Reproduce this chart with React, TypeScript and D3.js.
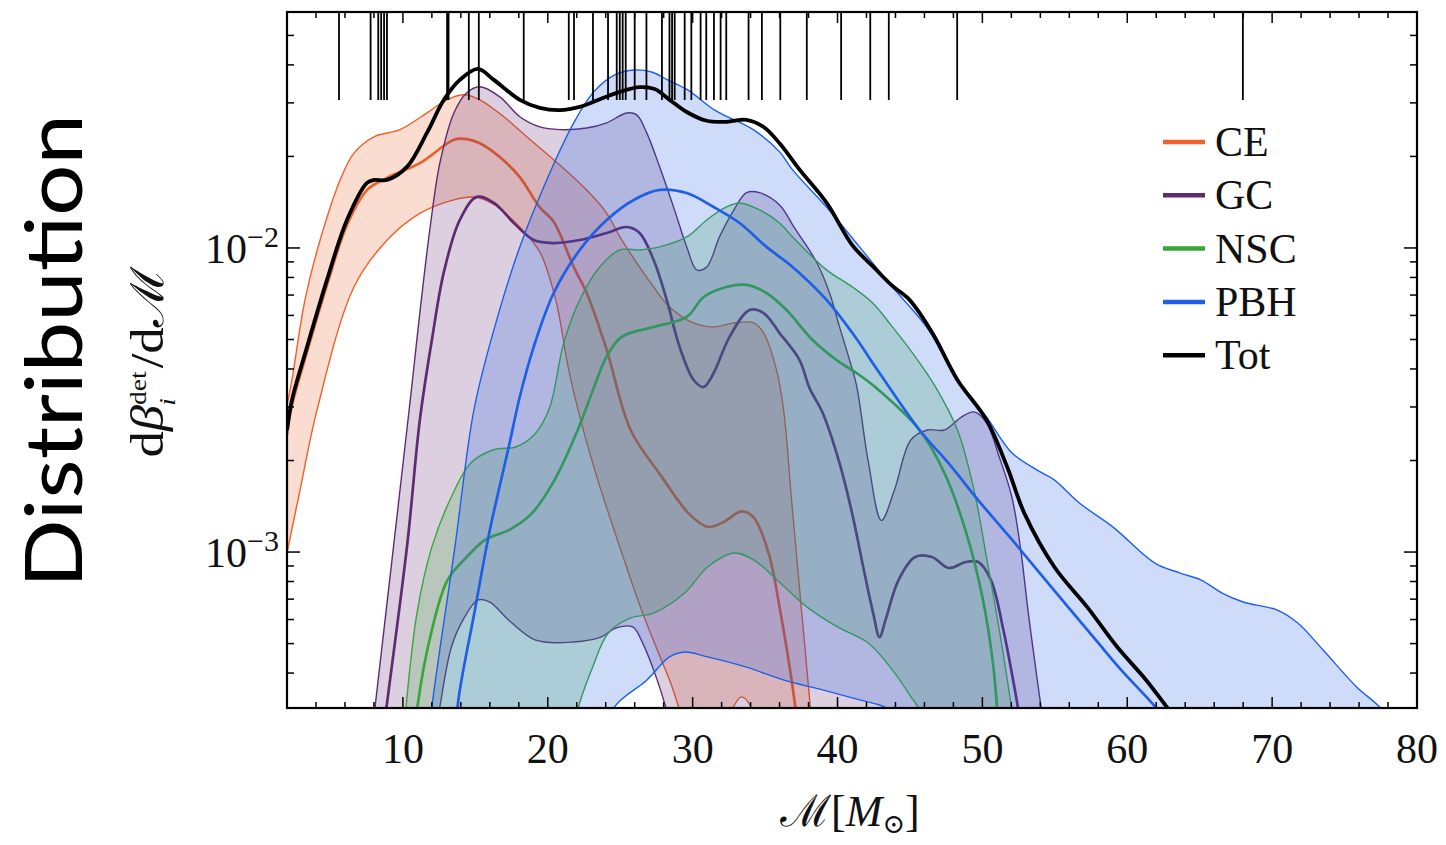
import React from 'react';
import * as d3 from 'd3';

type Pt = [number, number];

// ---- data: [chirp mass M_sun, dβ/dM] ----
const ceUpper: Pt[] = [[2.0,0.00304],[2.34,0.00368],[3.24,0.00675],[4.28,0.0106],[5.66,0.0167],[6.62,0.0205],[8.0,0.0232],[9.79,0.0245],[11.66,0.0278],[13.03,0.0307],[14.21,0.0319],[15.31,0.0307],[16.97,0.027],[18.55,0.0232],[20.41,0.0195],[22.69,0.0155],[24.07,0.013],[24.97,0.0109],[26.14,0.00893],[27.31,0.00744],[28.41,0.0064],[30.07,0.00567],[31.45,0.0055],[32.83,0.00567],[34.21,0.00567],[34.9,0.00525],[35.79,0.00397],[36.28,0.00293],[36.83,0.00148],[37.45,0.000695],[38.14,0.000302],[38.62,0.000153]];
const ceCentral: Pt[] = [[2.0,0.00243],[2.34,0.00304],[3.38,0.00455],[4.76,0.00756],[6.14,0.0119],[7.52,0.0155],[8.9,0.017],[11.17,0.019],[13.52,0.0227],[14.41,0.0228],[15.31,0.0221],[16.69,0.0199],[18.07,0.0171],[19.45,0.0136],[20.41,0.0122],[21.79,0.00866],[22.69,0.00711],[24.07,0.00462],[25.72,0.00252],[27.86,0.00177],[29.72,0.00134],[31.03,0.00121],[32.07,0.00125],[33.38,0.00136],[34.21,0.0013],[35.24,0.000993],[36.07,0.00063],[36.83,0.000379],[37.38,0.000241]];
const ceLower: Pt[] = [[2.0,0.000993],[2.9,0.0016],[4.07,0.00293],[6.62,0.00744],[8.9,0.0106],[11.17,0.013],[13.52,0.0144],[14.9,0.0147],[16.28,0.0139],[18.07,0.0117],[19.45,0.0097],[20.55,0.00675],[21.52,0.00382],[23.1,0.00196],[24.97,0.00104],[26.55,0.00063],[28.41,0.000379],[29.79,0.00026],[31.52,0.000232],[32.62,0.000298],[33.38,0.000334],[34.21,0.000298],[34.97,0.000207]];

const gcUpper: Pt[] = [[7.8,0.000236],[8.07,0.000307],[9.38,0.00107],[10.55,0.00329],[11.17,0.00611],[11.86,0.0115],[12.55,0.019],[13.52,0.0278],[14.41,0.0324],[15.31,0.0339],[16.69,0.0314],[18.07,0.027],[19.45,0.025],[20.83,0.0245],[22.69,0.0248],[24.07,0.0258],[25.45,0.0278],[26.14,0.0274],[26.83,0.0239],[27.72,0.0185],[28.69,0.0136],[29.59,0.0101],[30.28,0.00847],[30.97,0.00866],[31.86,0.0109],[32.83,0.0133],[33.72,0.0152],[34.62,0.0152],[36.0,0.01385],[37.03,0.01164],[38.55,0.00899],[39.45,0.00711],[40.14,0.0055],[40.83,0.00428],[41.31,0.00354],[42.14,0.00196],[43.03,0.00127],[43.93,0.0016],[45.07,0.00234],[46.21,0.00252],[47.38,0.00252],[48.55,0.00278],[49.42,0.00289],[50.28,0.00266],[51.17,0.00205],[52.03,0.00152],[52.62,0.00104],[53.17,0.00063],[53.79,0.000379],[54.07,0.000302],[54.34,0.000223]];
const gcCentral: Pt[] = [[8.55,0.000236],[8.86,0.000307],[10.31,0.00107],[11.17,0.00272],[12.0,0.00498],[12.83,0.00834],[13.93,0.01236],[15.1,0.01472],[16.28,0.01406],[17.66,0.01208],[19.03,0.01062],[20.41,0.01038],[22.21,0.01062],[24.07,0.0112],[25.45,0.01172],[26.34,0.0112],[27.31,0.00913],[28.21,0.00675],[29.1,0.00473],[30.07,0.00368],[30.76,0.00349],[31.45,0.00388],[32.55,0.0051],[33.93,0.00625],[34.9,0.00611],[36.0,0.00525],[37.38,0.00428],[38.07,0.00346],[38.97,0.00287],[40.14,0.00196],[41.01,0.00134],[41.86,0.000853],[42.46,0.00063],[42.9,0.000525],[43.31,0.000597],[44.21,0.000809],[45.36,0.000963],[46.52,0.000963],[47.68,0.000886],[48.83,0.000927],[49.72,0.000927],[50.59,0.000809],[51.45,0.000554],[52.03,0.0004],[52.48,0.000302],[52.83,0.000223]];
const gcLower: Pt[] = [[12.0,0.000207],[12.55,0.000309],[13.35,0.000487],[14.14,0.000597],[15.17,0.000695],[16.0,0.000685],[17.31,0.000597],[19.17,0.000513],[21.79,0.000506],[23.66,0.000525],[24.69,0.000562],[25.86,0.000567],[26.55,0.000502],[27.31,0.000409],[28.14,0.000309],[28.83,0.000223]];

const nscUpper: Pt[] = [[10.07,0.00026],[10.97,0.00063],[12.0,0.00104],[13.35,0.00152],[14.67,0.00196],[16.26,0.00217],[17.83,0.00222],[19.16,0.00246],[20.14,0.003],[21.1,0.00487],[22.21,0.00675],[23.59,0.00866],[24.97,0.00985],[26.34,0.00985],[27.72,0.01008],[29.59,0.01087],[30.97,0.01236],[32.34,0.01364],[33.24,0.01406],[34.62,0.01334],[36.0,0.01208],[36.9,0.01087],[39.24,0.00847],[41.03,0.00744],[42.41,0.0066],[43.79,0.0055],[45.17,0.00452],[46.69,0.00354],[48.28,0.00252],[49.42,0.0016],[50.28,0.000963],[51.17,0.000554],[52.03,0.000302],[52.28,0.000241]];
const nscCentral: Pt[] = [[10.8,0.000241],[10.97,0.000302],[12.0,0.000554],[13.08,0.000809],[14.41,0.000963],[15.72,0.0011],[17.31,0.00118],[18.9,0.00134],[20.48,0.00173],[22.07,0.00252],[23.17,0.00346],[24.07,0.0044],[25.1,0.0051],[27.31,0.0055],[29.59,0.00593],[30.76,0.0069],[32.34,0.00744],[33.72,0.00756],[35.1,0.00711],[36.48,0.00625],[38.28,0.00498],[39.93,0.00428],[41.31,0.00388],[42.69,0.00346],[45.66,0.00252],[47.38,0.00182],[48.83,0.00118],[50.0,0.000711],[50.73,0.000431],[51.03,0.000302],[51.24,0.000232]];
const nscLower: Pt[] = [[21.86,0.000241],[22.07,0.000302],[23.1,0.000419],[24.17,0.000541],[25.72,0.000607],[27.31,0.00063],[29.45,0.000733],[31.03,0.000893],[32.88,0.000993],[34.21,0.000942],[36.05,0.000791],[37.9,0.000659],[40.0,0.000567],[42.12,0.000502],[43.9,0.000403],[45.07,0.000334],[45.66,0.000302],[46.07,0.000241]];

const pbhUpper: Pt[] = [[11.79,0.000241],[12.0,0.000309],[13.59,0.00104],[14.9,0.00293],[16.28,0.00538],[18.07,0.01008],[19.93,0.01674],[21.79,0.02577],[23.17,0.0326],[24.62,0.0371],[26.0,0.0385],[27.17,0.0379],[28.28,0.0357],[29.66,0.0331],[31.52,0.0284],[34.21,0.02445],[36.0,0.0207],[36.9,0.01806],[39.24,0.01364],[41.52,0.01008],[43.79,0.00744],[46.14,0.0055],[48.41,0.0036],[50.28,0.00278],[52.03,0.00212],[53.78,0.00186],[54.94,0.00173],[56.69,0.00145],[59.0,0.00121],[61.9,0.00092],[63.66,0.000853],[65.1,0.000809],[66.55,0.000733],[68.0,0.000685],[70.32,0.000645],[71.77,0.000584],[73.52,0.000476],[75.83,0.00036],[77.59,0.000302],[78.07,0.00026]];
const pbhCentral: Pt[] = [[13.59,0.000241],[13.86,0.000334],[14.93,0.00063],[16.0,0.00118],[17.31,0.00222],[18.07,0.00324],[19.03,0.00473],[20.41,0.00711],[22.21,0.00985],[24.07,0.01236],[25.93,0.01438],[27.72,0.01552],[29.59,0.01516],[31.45,0.01364],[33.24,0.01208],[35.1,0.01008],[36.9,0.00866],[39.24,0.00675],[41.03,0.00525],[42.9,0.00388],[45.66,0.00252],[47.66,0.00196],[49.72,0.00148],[52.03,0.0011],[54.94,0.00075],[57.84,0.000513],[59.59,0.000409],[61.52,0.000326],[63.24,0.000264]];
const pbhLower: Pt[] = [[24.0,0.000241],[24.6,0.000309],[26.83,0.000379],[28.41,0.000452],[29.45,0.000469],[31.03,0.000452],[33.66,0.000419],[36.31,0.000379],[38.97,0.000352],[41.59,0.000326],[42.9,0.000314],[44.28,0.000292]];

const totCurve: Pt[] = [[2.0,0.00252],[2.34,0.00316],[3.38,0.00472],[4.76,0.00785],[6.14,0.01236],[7.52,0.01636],[8.0,0.01674],[8.9,0.01674],[10.28,0.01847],[11.66,0.0239],[12.83,0.0307],[13.93,0.0357],[15.17,0.0388],[16.28,0.0357],[18.07,0.0307],[19.45,0.0289],[20.83,0.0284],[22.21,0.0291],[23.86,0.0312],[24.97,0.0326],[26.34,0.0338],[27.38,0.0333],[28.41,0.0307],[29.59,0.028],[30.97,0.0262],[32.34,0.026],[33.72,0.0264],[34.9,0.025],[36.0,0.0221],[37.38,0.0181],[39.24,0.0141],[41.03,0.0102],[42.41,0.00873],[43.79,0.0075],[44.97,0.00675],[46.55,0.00525],[48.28,0.00368],[50.28,0.00272],[51.72,0.0019],[52.9,0.00134],[54.97,0.000893],[57.24,0.000659],[59.31,0.000487],[61.31,0.000379],[62.9,0.000302],[63.5,0.00028]];

// detected events (rug at top)
const rugMasses: number[] = [5.59,7.77,8.3,8.5,8.7,8.9,13.05,13.15,14.55,15.24,18.34,21.45,21.81,23.12,24.16,24.76,24.97,25.17,25.38,26.0,26.81,27.88,28.4,28.58,28.76,29.45,29.91,30.55,30.94,31.47,31.93,32.32,33.86,34.78,36.05,37.88,40.25,42.26,43.54,48.26,67.98];

const seriesNames = ['CE', 'GC', 'NSC', 'PBH'];
const seriesColors = ['#ef6128', '#5e2b70', '#3aa63a', '#1e5fe6'];
const legendNames = ['CE', 'GC', 'NSC', 'PBH', 'Tot'];
const legendColors = ['#ef6128', '#5e2b70', '#3aa63a', '#1e5fe6', '#000000'];
const xTickLabels = [10, 20, 30, 40, 50, 60, 70, 80];
const yTickLabels: [number, string][] = [[0.01, '−2'], [0.001, '−3']];

const X0 = 287, X1 = 1417, Y0 = 12, Y1 = 708;
const serif: React.CSSProperties = { fontFamily: '"Liberation Serif", "Times New Roman", Tinos, "DejaVu Serif", "Noto Serif", serif' };

export default function App() {
  const x = d3.scaleLinear().domain([2, 80]).range([X0, X1]);
  const y = d3.scaleLog().domain([3.07e-4, 0.0597]).range([Y1, Y0]);
  const line = d3.line<Pt>().x(d => x(d[0])).y(d => y(d[1])).curve(d3.curveCatmullRom.alpha(0.5));

  const bands = [
    { u: ceUpper, c: ceCentral, l: ceLower },
    { u: gcUpper, c: gcCentral, l: gcLower },
    { u: nscUpper, c: nscCentral, l: nscLower },
    { u: pbhUpper, c: pbhCentral, l: pbhLower },
  ];

  const bandPath = (u: Pt[], l: Pt[]) => {
    const a = line(u) || '';
    const b = (line([...l].reverse()) || '').replace(/^M/, 'L');
    return a + b + 'Z';
  };

  const xMinor = d3.range(4, 80, 2);
  const yMinor: number[] = [];
  for (let e = -4; e <= -1; e++) for (let m = 2; m <= 9; m++) {
    const v = m * Math.pow(10, e);
    if (v > 3.07e-4 && v < 0.0597) yMinor.push(v);
  }

  return (
    <svg width={1446} height={845} style={{ position: 'absolute', left: 0, top: 0, background: '#fff' }}>
      <defs>
        <clipPath id="plotclip"><rect x={X0} y={Y0} width={X1 - X0} height={Y1 - Y0} /></clipPath>
      </defs>
      <g clipPath="url(#plotclip)">
        {bands.map((b, i) => (
          <g key={seriesNames[i]}>
            <path d={bandPath(b.u, b.l)} fill={seriesColors[i]} fillOpacity={0.22} stroke="none" />
            <path d={line(b.u) || ''} fill="none" stroke={seriesColors[i]} strokeWidth={1.4} />
            <path d={line(b.l) || ''} fill="none" stroke={seriesColors[i]} strokeWidth={1.4} />
            <path d={line(b.c) || ''} fill="none" stroke={seriesColors[i]} strokeWidth={2.7} />
          </g>
        ))}
        <path d={line(totCurve) || ''} fill="none" stroke="#000" strokeWidth={3.8} />
      </g>
      {rugMasses.map((m, i) => (
        <line key={'r' + i} x1={x(m)} x2={x(m)} y1={Y0} y2={100} stroke="#000" strokeWidth={1.8} />
      ))}
      {xMinor.map(t => {
        const major = t % 10 === 0;
        const len = major ? 11 : 6;
        return (
          <g key={'xt' + t}>
            <line x1={x(t)} x2={x(t)} y1={Y1} y2={Y1 - len} stroke="#000" strokeWidth={1.5} />
            <line x1={x(t)} x2={x(t)} y1={Y0} y2={Y0 + len} stroke="#000" strokeWidth={1.5} />
          </g>
        );
      })}
      {yMinor.map((v, i) => (
        <g key={'ym' + i}>
          <line x1={X0} x2={X0 + 7} y1={y(v)} y2={y(v)} stroke="#000" strokeWidth={1.5} />
          <line x1={X1} x2={X1 - 7} y1={y(v)} y2={y(v)} stroke="#000" strokeWidth={1.5} />
        </g>
      ))}
      {yTickLabels.map(([v]) => (
        <g key={'yM' + v}>
          <line x1={X0} x2={X0 + 13} y1={y(v)} y2={y(v)} stroke="#000" strokeWidth={1.5} />
          <line x1={X1} x2={X1 - 13} y1={y(v)} y2={y(v)} stroke="#000" strokeWidth={1.5} />
        </g>
      ))}
      <rect x={X0} y={Y0} width={X1 - X0} height={Y1 - Y0} fill="none" stroke="#000" strokeWidth={2.2} />
      {xTickLabels.map(t => (
        <text key={'xl' + t} x={x(t)} y={763} textAnchor="middle" style={serif} fontSize={42} fill="#111">{t}</text>
      ))}
      {yTickLabels.map(([v, s]) => (
        <text key={'yl' + v} x={279} y={y(v) + 15} textAnchor="end" style={serif} fontSize={42} fill="#111">
          10<tspan fontSize={30} dy={-16}>{s}</tspan>
        </text>
      ))}
      {legendNames.map((n, i) => {
        const ly = 142 + i * 53.3;
        return (
          <g key={'lg' + n}>
            <line x1={1163} x2={1205} y1={ly} y2={ly} stroke={legendColors[i]} strokeWidth={4.5} />
            <text x={1215} y={ly + 14} style={serif} fontSize={42} fill="#111">{n}</text>
          </g>
        );
      })}
      <text x={850} y={826} textAnchor="middle" style={serif} fontSize={44} fill="#111">
        ℳ[<tspan fontStyle="italic">M</tspan><tspan fontSize={27} dy={7}>⊙</tspan><tspan dy={-7}>]</tspan>
      </text>
      <text transform="translate(163, 362) rotate(-90)" textAnchor="middle" style={serif} fontSize={46} fill="#111" textLength={191} lengthAdjust="spacingAndGlyphs">
        d<tspan fontStyle="italic">β</tspan><tspan fontSize={24} dy={-17}>det</tspan><tspan fontSize={24} fontStyle="italic" dx={-30} dy={29}>i</tspan><tspan dx={26} dy={-12}>/d</tspan>ℳ
      </text>
      <text transform="translate(82, 351) rotate(-90)" textAnchor="middle" style={{ fontFamily: 'Lato, "Open Sans", sans-serif' }} fontSize={80} textLength={474} lengthAdjust="spacingAndGlyphs" fill="#000">Distribution</text>
    </svg>
  );
}
